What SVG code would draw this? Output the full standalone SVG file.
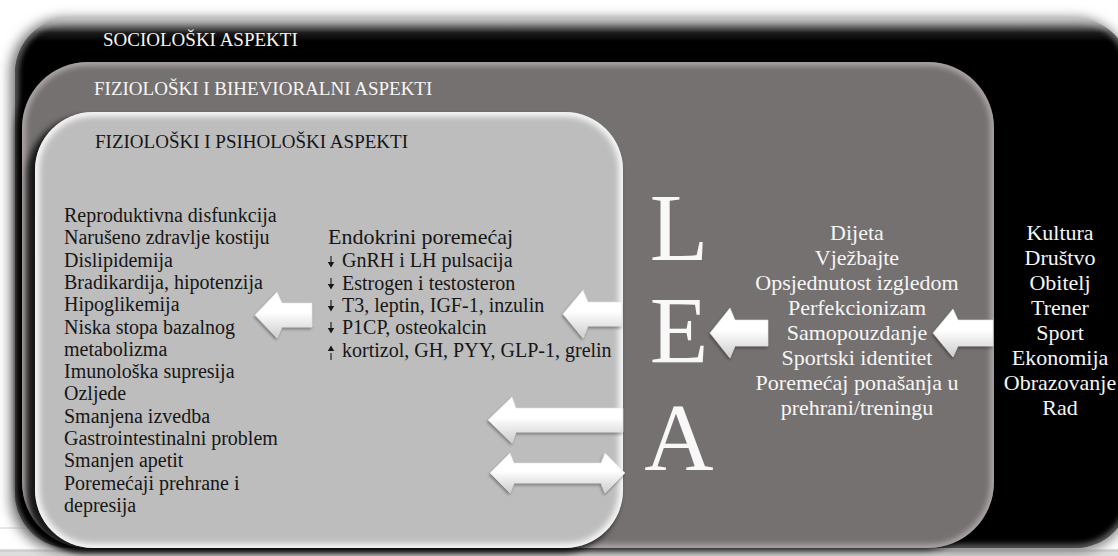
<svg xmlns="http://www.w3.org/2000/svg" width="1118" height="556" viewBox="0 0 1118 556">
  <style>
    .t { font-family: "Liberation Serif", "Times New Roman", serif; }
    .title { font-size: 19px; }
    .dark { fill: #161616; }
    .light { fill: #f6f6f6; }
    .item { font-size: 20px; }
    .col { font-size: 22px; text-anchor: middle; }
    .big { font-size: 96px; text-anchor: middle; fill: #f8f8f8; }
    .arrow { fill: url(#arrowGrad); stroke: #e2e2e2; stroke-width: 0.6; filter: url(#arrowShadow); }
  </style>
  <defs>
    <linearGradient id="arrowGrad" x1="0" y1="0" x2="0" y2="1">
      <stop offset="0" stop-color="#ffffff"/>
      <stop offset="0.45" stop-color="#ffffff"/>
      <stop offset="0.6" stop-color="#f1f1f1"/>
      <stop offset="1" stop-color="#cdcdcd"/>
    </linearGradient>
    <linearGradient id="blackTop" x1="0" y1="0" x2="0" y2="1">
      <stop offset="0" stop-color="#d0d0d0"/>
      <stop offset="0.012" stop-color="#8a8a8a"/>
      <stop offset="0.028" stop-color="#1c1c1c"/>
      <stop offset="0.045" stop-color="#000000"/>
      <stop offset="1" stop-color="#000000"/>
    </linearGradient>
    <filter id="blur6" x="-10%" y="-10%" width="120%" height="120%">
      <feGaussianBlur stdDeviation="6"/>
    </filter>
    <filter id="blur3" x="-10%" y="-10%" width="120%" height="120%">
      <feGaussianBlur stdDeviation="3"/>
    </filter>
    <filter id="arrowShadow" x="-20%" y="-30%" width="140%" height="160%">
      <feGaussianBlur in="SourceAlpha" stdDeviation="1.5"/>
      <feOffset dx="-1" dy="2" result="o"/>
      <feComponentTransfer><feFuncA type="linear" slope="0.35"/></feComponentTransfer>
      <feMerge><feMergeNode/><feMergeNode in="SourceGraphic"/></feMerge>
    </filter>
    <clipPath id="clipLight"><rect x="35" y="112" width="588" height="436" rx="58"/></clipPath>
    <clipPath id="clipGray"><rect x="22" y="62" width="972" height="486" rx="66"/></clipPath>
    <clipPath id="clipBlack"><rect x="15" y="18" width="1115" height="530" rx="55"/></clipPath>
    <g id="downArr">
      <line x1="0" y1="-11" x2="0" y2="-4" stroke="#161616" stroke-width="1.1"/>
      <path d="M-3.2,-5 L3.2,-5 L0,0.5 Z" fill="#161616"/>
    </g>
    <g id="upArr">
      <line x1="0" y1="-4" x2="0" y2="3" stroke="#161616" stroke-width="1.1"/>
      <path d="M-3.2,-6 L3.2,-6 L0,-11.5 Z" fill="#161616"/>
    </g>
  </defs>

  <!-- background -->
  <rect x="0" y="0" width="1118" height="556" fill="#ffffff"/>
  <rect x="0" y="549" width="1118" height="7" fill="#dedede"/>
  <line x1="0" y1="551" x2="1118" y2="551" stroke="#c4c4c4" stroke-width="1"/>
  <line x1="0" y1="528" x2="30" y2="528" stroke="#d0d0d0" stroke-width="1"/>

  <!-- outer: SOCIOLOŠKI ASPEKTI -->
  <g id="sociological">
    <rect x="10" y="18" width="1120" height="534" rx="55" fill="#7a7a7a" filter="url(#blur6)"/>
    <rect x="15" y="18" width="1115" height="530" rx="55" fill="url(#blackTop)"/>
    <g clip-path="url(#clipBlack)">
      <rect x="15" y="18" width="1115" height="530" rx="55" fill="none" stroke="#b5b5b5" stroke-width="5" filter="url(#blur3)" opacity="0.75"/>
    </g>
    <text class="t title light" x="103" y="46">SOCIOLOŠKI ASPEKTI</text>
  </g>

  <!-- middle: FIZIOLOŠKI I BIHEVIORALNI ASPEKTI -->
  <g id="behavioral">
    <rect x="16" y="64" width="972" height="486" rx="66" fill="#000000" filter="url(#blur3)" opacity="0.9"/>
    <rect x="22" y="62" width="972" height="486" rx="66" fill="#757170"/>
    <g clip-path="url(#clipGray)">
      <rect x="22" y="62" width="972" height="486" rx="66" fill="none" stroke="#c9c2c2" stroke-width="5" filter="url(#blur3)"/>
    </g>
    <text class="t title light" x="94" y="95">FIZIOLOŠKI I BIHEVIORALNI ASPEKTI</text>
  </g>

  <!-- inner: FIZIOLOŠKI I PSIHOLOŠKI ASPEKTI -->
  <g id="psychological">
    <rect x="27" y="117" width="592" height="436" rx="58" fill="#000000" filter="url(#blur3)" opacity="0.8"/>
    <rect x="35" y="112" width="588" height="436" rx="58" fill="#bdbdbd"/>
    <g clip-path="url(#clipLight)">
      <rect x="35" y="112" width="588" height="436" rx="58" fill="none" stroke="#ffffff" stroke-width="8" filter="url(#blur3)"/>
    </g>
    <text class="t title dark" x="95" y="148">FIZIOLOŠKI I PSIHOLOŠKI ASPEKTI</text>
  </g>

  <!-- consequences list -->
  <g id="consequences" class="t item dark">
    <text x="64" y="222">Reproduktivna disfunkcija</text>
    <text x="64" y="244">Narušeno zdravlje kostiju</text>
    <text x="64" y="267">Dislipidemija</text>
    <text x="64" y="289">Bradikardija, hipotenzija</text>
    <text x="64" y="311">Hipoglikemija</text>
    <text x="64" y="334">Niska stopa bazalnog</text>
    <text x="64" y="356">metabolizma</text>
    <text x="64" y="378">Imunološka supresija</text>
    <text x="64" y="400">Ozljede</text>
    <text x="64" y="423">Smanjena izvedba</text>
    <text x="64" y="445">Gastrointestinalni problem</text>
    <text x="64" y="467">Smanjen apetit</text>
    <text x="64" y="490">Poremećaji prehrane i</text>
    <text x="64" y="512">depresija</text>
  </g>

  <!-- endocrine list -->
  <g id="endocrine">
    <text class="t dark" x="328" y="244" font-size="22">Endokrini poremećaj</text>
    <g class="t item dark">
      <text x="342" y="267">GnRH i LH pulsacija</text>
      <text x="342" y="290">Estrogen i testosteron</text>
      <text x="342" y="312">T3, leptin, IGF-1, inzulin</text>
      <text x="342" y="334">P1CP, osteokalcin</text>
      <text x="342" y="357">kortizol, GH, PYY, GLP-1, grelin</text>
    </g>
    <use href="#downArr" x="331" y="267"/>
    <use href="#downArr" x="331" y="289"/>
    <use href="#downArr" x="331" y="311"/>
    <use href="#downArr" x="331" y="333"/>
    <use href="#upArr" x="331" y="357"/>
  </g>

  <!-- LEA -->
  <g id="lea" class="t big">
    <text x="679" y="260">L</text>
    <text x="679" y="363">E</text>
    <text x="679" y="470">A</text>
  </g>

  <!-- behavioural factors -->
  <g id="behaviour-factors" class="t col light">
    <text x="857" y="240">Dijeta</text>
    <text x="857" y="265">Vježbajte</text>
    <text x="857" y="290">Opsjednutost izgledom</text>
    <text x="857" y="315">Perfekcionizam</text>
    <text x="857" y="340">Samopouzdanje</text>
    <text x="857" y="365">Sportski identitet</text>
    <text x="857" y="390">Poremećaj ponašanja u</text>
    <text x="857" y="415">prehrani/treningu</text>
  </g>

  <!-- social factors -->
  <g id="social-factors" class="t col light">
    <text x="1060" y="240">Kultura</text>
    <text x="1060" y="265">Društvo</text>
    <text x="1060" y="290">Obitelj</text>
    <text x="1060" y="315">Trener</text>
    <text x="1060" y="340">Sport</text>
    <text x="1060" y="365">Ekonomija</text>
    <text x="1060" y="390">Obrazovanje</text>
    <text x="1060" y="415">Rad</text>
  </g>

  <!-- connectors -->
  <g id="connectors">
    <path class="arrow" d="M255,315 L277,292 L282,303 L312,303 L312,327 L282,327 L277,338 Z"/>
    <path class="arrow" d="M563,314 L583,290 L588,302 L622,302 L622,326 L588,326 L583,338 Z"/>
    <path class="arrow" d="M710,333 L730,308 L735,320 L768,320 L768,346 L735,346 L730,358 Z"/>
    <path class="arrow" d="M933,333 L953,309 L958,320 L993,320 L993,346 L958,346 L953,357 Z"/>
    <path class="arrow" d="M488,420 L512,397 L516,408 L623,408 L623,432 L516,432 L512,443 Z"/>
    <path class="arrow" d="M490,473 L510,453 L514,463 L601,463 L605,453 L625,473 L605,493 L601,483 L514,483 L510,493 Z"/>
  </g>
</svg>
